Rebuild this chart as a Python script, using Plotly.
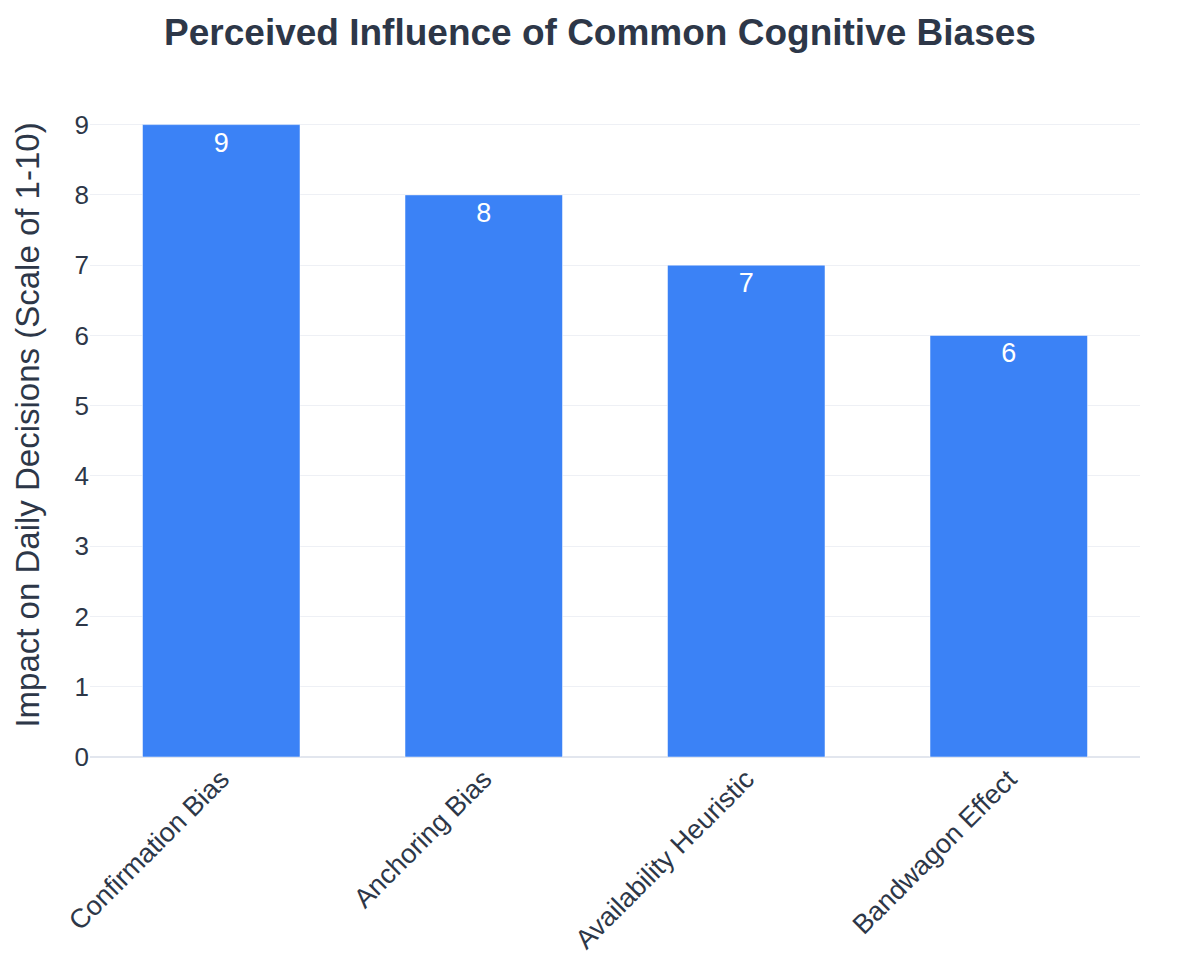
import plotly.graph_objects as go

categories = ["Confirmation Bias", "Anchoring Bias", "Availability Heuristic", "Bandwagon Effect"]
impact = [9, 8, 7, 6]

FONT = "Liberation Sans, Arial, sans-serif"

fig = go.Figure(go.Bar(
    x=categories,
    y=impact,
    text=[str(v) for v in impact],
    textposition="inside",
    insidetextanchor="end",
    textfont=dict(color="white", size=27, family=FONT),
    marker=dict(color="#3b82f6"),
    width=0.6,
))

fig.update_layout(
    width=1200, height=975,
    template="plotly_white",
    title=dict(text="<b>Perceived Influence of Common Cognitive Biases</b>", x=0.5, xanchor="center",
               y=0.967, yanchor="middle",
               font=dict(size=37, color="#2d3748", family=FONT)),
    font=dict(family=FONT, color="#2d3748", size=27),
    margin=dict(l=90, r=60, t=93, b=218),
    paper_bgcolor="white",
    plot_bgcolor="white",
    showlegend=False,
)
fig.update_xaxes(tickangle=-45, tickfont=dict(size=27, color="#2d3748"), showgrid=False)
fig.update_yaxes(title=dict(text="Impact on Daily Decisions (Scale of 1-10)", font=dict(size=33, color="#2d3748"),
                            standoff=24),
                 tickfont=dict(size=26, color="#2d3748"), dtick=1, range=[0, 9.45],
                 gridcolor="#eef0f5", zerolinecolor="#e2e6ee", zerolinewidth=2)

fig.write_html("out.html")
